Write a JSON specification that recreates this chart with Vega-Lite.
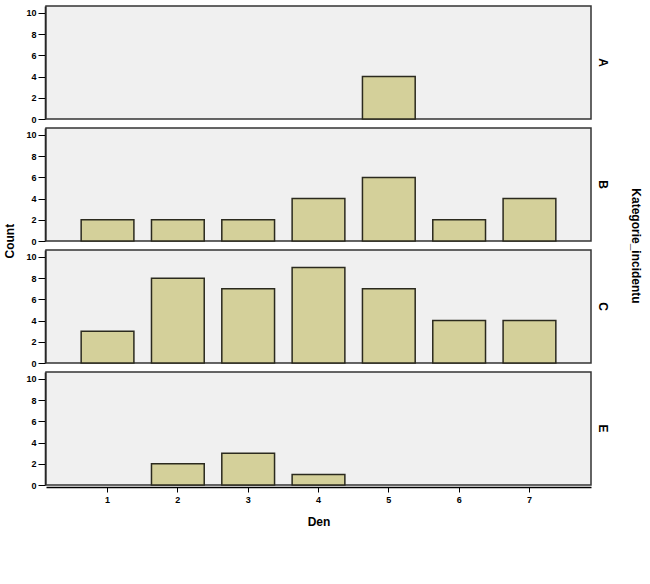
{
  "$schema": "https://vega.github.io/schema/vega-lite/v6.json",
  "padding": {"left": 3, "top": 5, "right": 5, "bottom": 5},
  "title": {"text": "Count", "orient": "left", "anchor": "middle", "fontSize": 12, "font": "Liberation Sans", "fontWeight": "bold", "color": "#000", "offset": 9, "dx": 25},
  "data": {"values": [
    {"Kategorie_incidentu": "A", "Den": 5, "Count": 4},
    {"Kategorie_incidentu": "B", "Den": 1, "Count": 2},
    {"Kategorie_incidentu": "B", "Den": 2, "Count": 2},
    {"Kategorie_incidentu": "B", "Den": 3, "Count": 2},
    {"Kategorie_incidentu": "B", "Den": 4, "Count": 4},
    {"Kategorie_incidentu": "B", "Den": 5, "Count": 6},
    {"Kategorie_incidentu": "B", "Den": 6, "Count": 2},
    {"Kategorie_incidentu": "B", "Den": 7, "Count": 4},
    {"Kategorie_incidentu": "C", "Den": 1, "Count": 3},
    {"Kategorie_incidentu": "C", "Den": 2, "Count": 8},
    {"Kategorie_incidentu": "C", "Den": 3, "Count": 7},
    {"Kategorie_incidentu": "C", "Den": 4, "Count": 9},
    {"Kategorie_incidentu": "C", "Den": 5, "Count": 7},
    {"Kategorie_incidentu": "C", "Den": 6, "Count": 4},
    {"Kategorie_incidentu": "C", "Den": 7, "Count": 4},
    {"Kategorie_incidentu": "E", "Den": 2, "Count": 2},
    {"Kategorie_incidentu": "E", "Den": 3, "Count": 3},
    {"Kategorie_incidentu": "E", "Den": 4, "Count": 1}
  ]},
  "facet": {
    "row": {
      "field": "Kategorie_incidentu", "type": "nominal",
      "header": {
        "labelOrient": "right", "labelAngle": 90, "labelFontSize": 12, "labelFontWeight": "bold", "labelFont": "Liberation Sans", "labelColor": "#000", "labelPadding": 4,
        "titleOrient": "right", "titleAngle": 90, "titleFontSize": 12, "titleFontWeight": "bold", "titleFont": "Liberation Sans", "titleColor": "#000", "titlePadding": 10
      }
    }
  },
  "spacing": 6,
  "spec": {
    "width": 545,
    "height": 113,
    "mark": {"type": "bar", "fill": "#d4d09a", "stroke": "#2b2a1e", "strokeWidth": 1.5},
    "encoding": {
      "x": {
        "field": "Den", "type": "ordinal",
        "scale": {"paddingInner": 0.25, "paddingOuter": 0.5},
        "axis": {"title": "Den", "labelAngle": 0, "labelFontSize": 9, "labelFont": "Liberation Sans", "labelFontWeight": "bold", "labelColor": "#000", "tickColor": "#000", "tickSize": 5, "domainColor": "#000", "domainWidth": 1.5, "titleFontSize": 12, "titleFont": "Liberation Sans", "titleFontWeight": "bold", "titleColor": "#000", "titlePadding": 12, "labelPadding": 3}
      },
      "y": {
        "field": "Count", "type": "quantitative",
        "scale": {"domain": [0, 10.66], "nice": false},
        "axis": {"title": null, "values": [0, 2, 4, 6, 8, 10], "grid": false, "labelFontSize": 9, "labelFont": "Liberation Sans", "labelFontWeight": "bold", "labelColor": "#000", "tickColor": "#000", "tickSize": 7, "domainColor": "#000", "domainWidth": 1.5, "labelPadding": 2}
      }
    }
  },
  "config": {
    "view": {"fill": "#f0f0f0", "stroke": "#333", "strokeWidth": 1.5},
    "background": "#ffffff"
  }
}
